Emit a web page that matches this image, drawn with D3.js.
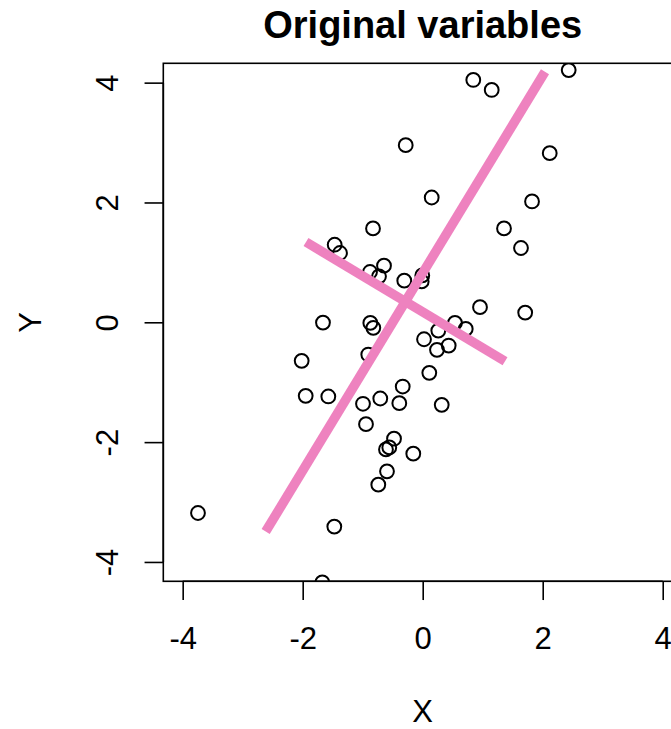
<!DOCTYPE html>
<html>
<head>
<meta charset="utf-8">
<script src="https://cdn.jsdelivr.net/npm/d3@7"></script>
<style>
  html, body { margin: 0; padding: 0; background: #fff; overflow: hidden; }
  svg { display: block; }
  text { font-family: "Liberation Sans", Arial, Helvetica, sans-serif; fill: #000; }
</style>
</head>
<body>
<div id="chart"></div>
<script>
// Sample of (X, Y) observations
const xValues = [
  0.843, 1.150, 2.433, -0.283, 2.117, 0.150, 1.822, -0.828, 1.355, 1.638,
  -1.467, -1.378, -0.645, -0.878, -0.728, -0.307, -0.007, -0.017, 0.955, 1.708,
  -1.662, -0.873, -0.823, 0.538, 0.717, 0.260, 0.022, 0.433, 0.238, -0.907,
  -2.017, 0.110, -0.333, -1.950, -1.573, -0.707, -0.995, -0.390, 0.317, -0.945,
  -0.478, -0.557, -0.612, -0.157, -0.595, -0.740, -3.745, -1.473, -1.673
];
const yValues = [
  4.045, 3.878, 4.210, 2.957, 2.823, 2.083, 2.017, 1.567, 1.567, 1.240,
  1.295, 1.157, 0.945, 0.840, 0.767, 0.695, 0.783, 0.683, 0.253, 0.162,
  -0.005, -0.010, -0.093, -0.010, -0.110, -0.138, -0.283, -0.388, -0.460, -0.538,
  -0.643, -0.843, -1.072, -1.227, -1.238, -1.272, -1.360, -1.350, -1.377, -1.700,
  -1.943, -2.088, -2.122, -2.193, -2.488, -2.710, -3.183, -3.410, -4.340
];

// Principal-axis segments through the sample mean
const pc1Ends = [[-2.617, -3.493], [2.038, 4.183]];
const pc2Ends = [[-1.945, 1.340], [1.372, -0.650]];

const xTicks = [-4, -2, 0, 2, 4];
const yTicks = [-4, -2, 0, 2, 4];
const xLimits = [-4.323, 4.323];
const yLimits = [-4.323, 4.323];

const titleText = "Original variables";
const xLabel = "X";
const yLabel = "Y";

const W = 671, H = 729;
const plot = { left: 163.3, top: 63.3, width: 518.8, height: 518.0 };
const lineUnit = 37.5;   // one margin line
const fontSize = 31;
const plainNumber = d => String(d);   // ASCII hyphen for negatives

const svg = d3.select("#chart").append("svg")
  .attr("width", W).attr("height", H);

const x = d3.scaleLinear().domain(xLimits).range([plot.left, plot.left + plot.width]);
const y = d3.scaleLinear().domain(yLimits).range([plot.top + plot.height, plot.top]);

svg.append("clipPath").attr("id", "plotClip")
  .append("rect")
  .attr("x", plot.left).attr("y", plot.top)
  .attr("width", plot.width).attr("height", plot.height);

const area = svg.append("g").attr("clip-path", "url(#plotClip)");

// open circles
const pts = xValues.map((v, i) => ({ x: v, y: yValues[i] }));
area.selectAll("circle.pt").data(pts).enter().append("circle")
  .attr("class", "pt")
  .attr("cx", d => x(d.x))
  .attr("cy", d => y(d.y))
  .attr("r", 6.9)
  .attr("fill", "none")
  .attr("stroke", "#000")
  .attr("stroke-width", 2);

// principal axes
const line = d3.line().x(d => x(d[0])).y(d => y(d[1]));
area.selectAll("path.pc").data([pc1Ends, pc2Ends]).enter().append("path")
  .attr("class", "pc")
  .attr("d", line)
  .attr("fill", "none")
  .attr("stroke", "#EE82BF")
  .attr("stroke-width", 9.5)
  .attr("stroke-linecap", "butt");

// plot frame
svg.append("rect")
  .attr("x", plot.left).attr("y", plot.top)
  .attr("width", plot.width).attr("height", plot.height)
  .attr("fill", "none").attr("stroke", "#000").attr("stroke-width", 1.6);

// x axis
const xAxis = d3.axisBottom(x).tickValues(xTicks).tickSize(lineUnit / 2).tickPadding(0)
  .tickFormat(plainNumber);
const gx = svg.append("g")
  .attr("transform", `translate(0,${plot.top + plot.height})`)
  .call(xAxis);
gx.select(".domain").attr("stroke", "#000").attr("stroke-width", 1.6)
  .attr("d", `M${x(xTicks[0])},0H${x(xTicks[xTicks.length - 1])}`);
gx.selectAll(".tick line").attr("stroke", "#000").attr("stroke-width", 1.6);
gx.selectAll(".tick text")
  .attr("y", 1.5 * lineUnit).attr("dy", "0.36em")
  .style("font-size", fontSize + "px")
  .style("font-family", "'Liberation Sans', Arial, sans-serif")
  .attr("fill", "#000");

// y axis
const yAxis = d3.axisLeft(y).tickValues(yTicks).tickSize(lineUnit / 2).tickPadding(0)
  .tickFormat(plainNumber);
const gy = svg.append("g")
  .attr("transform", `translate(${plot.left},0)`)
  .call(yAxis);
gy.select(".domain").attr("stroke", "#000").attr("stroke-width", 1.6)
  .attr("d", `M0,${y(yTicks[0])}V${y(yTicks[yTicks.length - 1])}`);
gy.selectAll(".tick line").attr("stroke", "#000").attr("stroke-width", 1.6);
gy.selectAll(".tick text")
  .attr("x", null).attr("dy", null)
  .attr("text-anchor", "middle")
  .attr("transform", `translate(${-1.5 * lineUnit},0) rotate(-90)`)
  .attr("y", 0).attr("dy", "0.36em")
  .style("font-size", fontSize + "px")
  .style("font-family", "'Liberation Sans', Arial, sans-serif")
  .attr("fill", "#000");

// axis titles
svg.append("text")
  .attr("x", plot.left + plot.width / 2)
  .attr("y", plot.top + plot.height + 3.45 * lineUnit)
  .attr("dy", "0.36em")
  .attr("text-anchor", "middle")
  .style("font-size", fontSize + "px")
  .text(xLabel);

svg.append("text")
  .attr("transform", `translate(${plot.left - 3.55 * lineUnit},${plot.top + plot.height / 2}) rotate(-90)`)
  .attr("dy", "0.36em")
  .attr("text-anchor", "middle")
  .style("font-size", fontSize + "px")
  .text(yLabel);

// main title
svg.append("text")
  .attr("x", plot.left + plot.width / 2)
  .attr("y", 38)
  .attr("text-anchor", "middle")
  .style("font-size", "38px")
  .style("font-weight", "bold")
  .text(titleText);
</script>
</body>
</html>
